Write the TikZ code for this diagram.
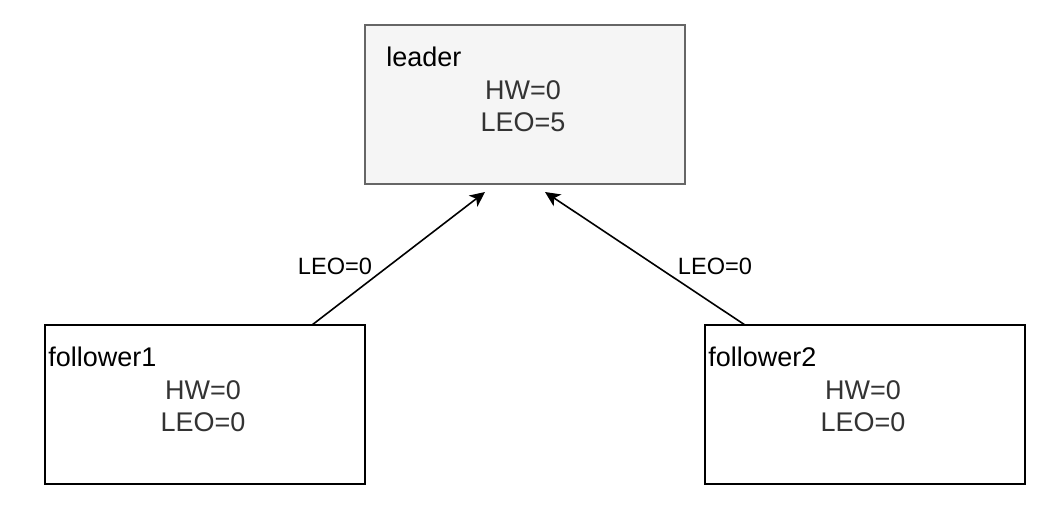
\documentclass[tikz,border=0pt]{standalone}
\usepackage{fontspec}
\setmainfont{Liberation Sans}
\usetikzlibrary{arrows.meta}
\definecolor{leaderfill}{HTML}{F5F5F5}
\definecolor{leaderdraw}{HTML}{666666}
\definecolor{bodytext}{HTML}{333333}
\begin{document}
\begin{tikzpicture}[x=0.5pt,y=-0.5pt,
  box/.style={draw=black, line width=1pt, minimum width=160pt, minimum height=79.5pt, inner sep=0pt},
  bodytxt/.style={text=bodytext, align=center, inner sep=0pt, font=\fontsize{13.5}{16}\selectfont},
  titletxt/.style={text=black, anchor=west, inner sep=0pt, font=\fontsize{13.5}{16}\selectfont},
  edgelbl/.style={text=black, inner sep=0pt, font=\fontsize{11.8}{14}\selectfont},
  arr/.style={draw=black, line width=0.8pt, -{Stealth[length=7.5pt, width=7pt, inset=2pt]}}]
\useasboundingbox (0,0) rectangle (1044,516);
% boxes
\node[box, fill=leaderfill, draw=leaderdraw] (leader) at (525,104.5) {};
\node[box] (follower1) at (205,404.5) {};
\node[box] (follower2) at (865,404.5) {};
% titles
\node[titletxt] (leadertitle) at (386,57) {leader};
\node[titletxt] (f1title) at (48,357) {follower1};
\node[titletxt] (f2title) at (708,357) {follower2};
% body texts
\node[bodytxt] (leaderbody) at (523,106) {HW=0\\LEO=5};
\node[bodytxt] (f1body) at (203,406) {HW=0\\LEO=0};
\node[bodytxt] (f2body) at (863,406) {HW=0\\LEO=0};
% connectors
\coordinate (s1) at (312,325);
\coordinate (t1) at (485,192);
\coordinate (s2) at (745,325);
\coordinate (t2) at (545,192);
\draw[arr] (s1) -- (t1);
\draw[arr] (s2) -- (t2);
\node[edgelbl] (lbl1) at (335,266) {LEO=0};
\node[edgelbl] (lbl2) at (715,266) {LEO=0};
\end{tikzpicture}
\end{document}
